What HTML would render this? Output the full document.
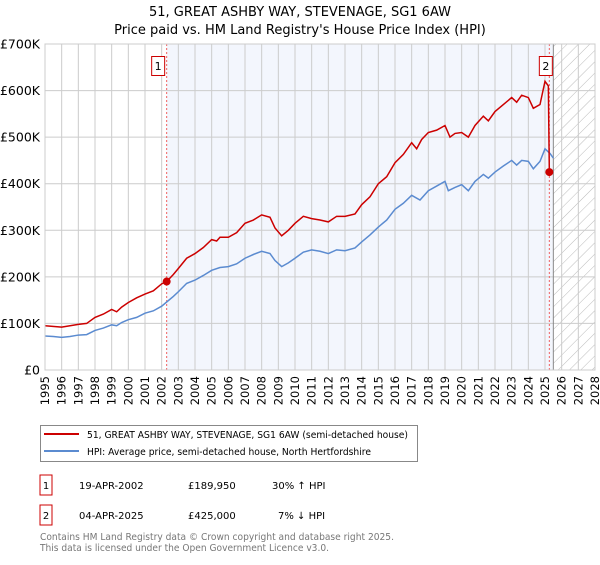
<!DOCTYPE html>
<html><head><meta charset="utf-8"><style>
body{margin:0;background:#fff;font-family:"Liberation Sans","DejaVu Sans",sans-serif;}
svg text{font-family:"DejaVu Sans","Liberation Sans",sans-serif;}
</style></head><body>
<svg id="c" width="600" height="560" xmlns="http://www.w3.org/2000/svg">
<defs><pattern id="hatch" width="8" height="8" patternUnits="userSpaceOnUse" patternTransform="rotate(45)"><line x1="0" y1="0" x2="0" y2="8" stroke="#bbb" stroke-width="1"/></pattern></defs>
<text x="300" y="16" text-anchor="middle" font-size="13" fill="#000">51, GREAT ASHBY WAY, STEVENAGE, SG1 6AW</text>
<text x="300" y="34" text-anchor="middle" font-size="13" fill="#000">Price paid vs. HM Land Registry's House Price Index (HPI)</text>
<g id="plot"></g>
<g>
<rect x="40.5" y="425.5" width="377" height="36" fill="#fff" stroke="#888"/>
<line x1="44" y1="434" x2="79" y2="434" stroke="#cc0000" stroke-width="2"/>
<text x="87" y="438" font-size="10" textLength="321" lengthAdjust="spacingAndGlyphs">51, GREAT ASHBY WAY, STEVENAGE, SG1 6AW (semi-detached house)</text>
<line x1="44" y1="451" x2="79" y2="451" stroke="#5b8bd0" stroke-width="2"/>
<text x="87" y="455" font-size="10" textLength="284" lengthAdjust="spacingAndGlyphs">HPI: Average price, semi-detached house, North Hertfordshire</text>
</g>
<g font-size="10">
<rect x="40" y="475" width="12" height="20" fill="#fff" stroke="#cc0000"/><text x="46" y="489" text-anchor="middle">1</text>
<text x="79" y="489">19-APR-2002</text><text x="188" y="489">£189,950</text><text x="272" y="489">30% ↑ HPI</text>
<rect x="40" y="505" width="12" height="20" fill="#fff" stroke="#cc0000"/><text x="46" y="519" text-anchor="middle">2</text>
<text x="79" y="519">04-APR-2025</text><text x="188" y="519">£425,000</text><text x="278" y="519">7% ↓ HPI</text>
</g>
<text x="40" y="540" font-size="10" fill="#777" textLength="354" lengthAdjust="spacingAndGlyphs">Contains HM Land Registry data © Crown copyright and database right 2025.</text>
<text x="40" y="551" font-size="10" fill="#777" textLength="289" lengthAdjust="spacingAndGlyphs">This data is licensed under the Open Government Licence v3.0.</text>
</svg>
<script>
const hpiYears=[1995,1995.5,1996,1996.5,1997,1997.5,1998,1998.5,1999,1999.3,1999.6,2000,2000.5,2001,2001.5,2002,2002.3,2002.7,2003,2003.5,2004,2004.5,2005,2005.5,2006,2006.5,2007,2007.5,2008,2008.5,2008.8,2009.2,2009.6,2010,2010.5,2011,2011.5,2012,2012.5,2013,2013.6,2014,2014.5,2015,2015.5,2016,2016.5,2017,2017.5,2018,2018.5,2019,2019.2,2019.6,2020,2020.4,2020.8,2021.3,2021.6,2022,2022.5,2023,2023.3,2023.6,2024,2024.3,2024.7,2025,2025.3,2025.5];
const hpiValues=[73,72,70,72,75,76,85,90,97,95,102,108,113,122,127,137,146,158,168,186,193,203,214,220,222,228,240,248,255,250,235,222,230,240,253,258,255,250,258,256,262,275,290,307,322,345,358,375,365,385,395,405,385,392,398,385,405,420,412,425,438,450,440,450,448,432,448,475,465,455];
const priceYears=[1995,1996,1997,1997.5,1998,1998.5,1999,1999.3,1999.6,2000,2000.5,2001,2001.5,2002,2002.3,2002.7,2003,2003.5,2004,2004.5,2005,2005.3,2005.5,2006,2006.5,2007,2007.5,2008,2008.5,2008.8,2009.2,2009.6,2010,2010.5,2011,2011.5,2012,2012.5,2013,2013.6,2014,2014.5,2015,2015.5,2016,2016.5,2017,2017.3,2017.6,2018,2018.5,2019,2019.3,2019.6,2020,2020.4,2020.8,2021.3,2021.6,2022,2022.5,2023,2023.3,2023.6,2024,2024.3,2024.7,2025,2025.2,2025.26];
const priceValues=[95,92,98,100,113,120,130,125,135,145,155,163,170,185,190,205,218,240,250,263,280,277,285,285,295,315,322,333,328,305,288,300,315,330,325,322,318,330,330,335,355,372,400,415,445,463,488,475,495,510,515,525,500,508,510,500,525,545,535,555,570,585,575,590,585,562,570,620,610,425];
const saleYears=[2002.3,2025.26];
const saleValues=[189.95,425];
const saleLabels=["1","2"];
const yTicks=[0,100,200,300,400,500,600,700];
const yTickLabels=["£0","£100K","£200K","£300K","£400K","£500K","£600K","£700K"];
const xTicks=[1995,1996,1997,1998,1999,2000,2001,2002,2003,2004,2005,2006,2007,2008,2009,2010,2011,2012,2013,2014,2015,2016,2017,2018,2019,2020,2021,2022,2023,2024,2025,2026,2027,2028];

const L=45,R=595,T=44,B=370;
const x=v=>L+(v-1995)/(2028-1995)*(R-L);
const y=v=>B-v/700*(B-T);
const NS="http://www.w3.org/2000/svg";
const g=document.getElementById('plot');
function mk(tag,attrs,parent){const e=document.createElementNS(NS,tag);for(const k in attrs)e.setAttribute(k,attrs[k]);(parent||g).appendChild(e);return e;}
let e;
e=mk('rect',{x:x(saleYears[0]),y:T,width:x(2025.5)-x(saleYears[0]),height:B-T,fill:'#f3f6fd'});


e=mk('rect',{x:x(2025.5),y:T,width:R-x(2025.5),height:B-T,fill:'url(#hatch)'});


xTicks.forEach(t=>{
  e=mk('line',{x1:x(t),y1:T,x2:x(t),y2:B,stroke:'#ccc','stroke-width':1});
  
  
  e=mk('text',{x:0,y:0,'font-size':11.5,'text-anchor':'end',transform:`translate(${x(t)+4},${B+6}) rotate(-90)`});
  e.textContent=t;
  
  
});
yTicks.forEach((t,i)=>{
  e=mk('line',{x1:L,y1:y(t),x2:R,y2:y(t),stroke:'#ccc','stroke-width':1});
  
  
  e=mk('text',{x:L-5,y:y(t)+4.5,'font-size':12.5,'text-anchor':'end'});
  e.textContent=yTickLabels[i];
  
  
});
e=mk('line',{x1:x(2025.5),y1:T,x2:x(2025.5),y2:B,stroke:'#888','stroke-width':1});


saleYears.forEach(s=>{
  e=mk('line',{x1:x(s),y1:T,x2:x(s),y2:B,stroke:'#f06060','stroke-width':1,'stroke-dasharray':'2,2'});
  
  
});
e=mk('polyline',{points:hpiYears.map((v,i)=>x(v)+','+y(hpiValues[i])).join(' '),fill:'none',stroke:'#5b8bd0','stroke-width':1.5});


e=mk('polyline',{points:priceYears.map((v,i)=>x(v)+','+y(priceValues[i])).join(' '),fill:'none',stroke:'#cc0000','stroke-width':1.5});


saleYears.forEach((s,i)=>{
  e=mk('circle',{cx:x(s),cy:y(saleValues[i]),r:4,fill:'#cc0000'});
  
  
  const bx=i===0?x(s)-15:x(s)-10;
  e=mk('rect',{x:bx,y:56.5,width:13,height:19,fill:'#fff',stroke:'#cc0000'});
  
  
  e=mk('text',{x:bx+6.5,y:70,'font-size':11,'text-anchor':'middle'});
  e.textContent=saleLabels[i];
  
  
});
e=mk('rect',{x:L,y:T,width:R-L,height:B-T,fill:'none',stroke:'#ccc'});


</script>
</body></html>
